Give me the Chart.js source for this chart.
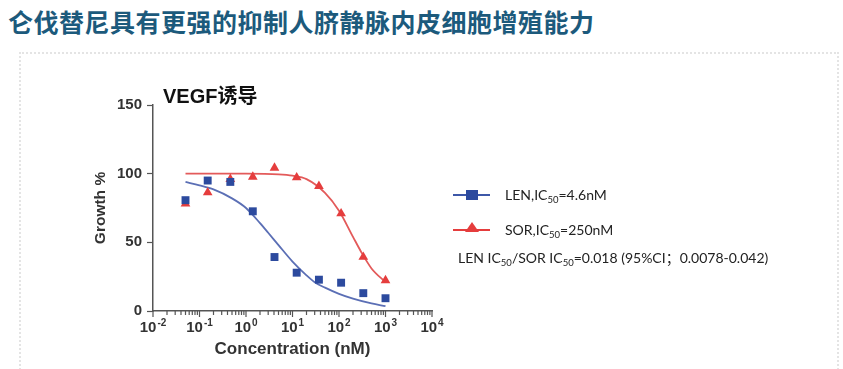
<!DOCTYPE html>
<html>
<head>
<meta charset="utf-8">
<script src="https://cdn.jsdelivr.net/npm/chart.js@4.4.1/dist/chart.umd.min.js"></script>
<style>
  html, body { margin: 0; padding: 0; background: #fff; }
  body { width: 843px; height: 369px; position: relative; overflow: hidden; }
  #title { position: absolute; left: 8px; top: 8px; font: bold 25px "Noto Sans CJK SC", sans-serif; color: #1c5a7c; letter-spacing: 0.5px; line-height: 27px; white-space: nowrap; }
  #frame { position: absolute; left: 19px; top: 52px; width: 820px; height: 330px; border: 2px dotted #e4e4e4; box-sizing: border-box; }
  #chartTitle { position: absolute; left: 163px; top: 85px; font: bold 20px "Liberation Sans", "Noto Sans CJK SC", sans-serif; color: #111; line-height: 22px; white-space: nowrap; }
  canvas { position: absolute; left: 0; top: 0; }
  .leg { position: absolute; font: 14px Lato, "Noto Sans CJK SC", sans-serif; color: #222; white-space: nowrap; line-height: 16px; }
  .leg sub { font-size: 0.68em; vertical-align: -0.3em; line-height: 0; }
  .line { position: absolute; height: 2px; width: 37px; left: 453px; }
  .sq { position: absolute; width: 12px; height: 10px; left: 466px; background: #2c4a9e; }
  .tri { position: absolute; left: 465px; width: 0; height: 0; border-left: 7px solid transparent; border-right: 7px solid transparent; border-bottom: 10px solid #e53d3d; }
</style>
</head>
<body>
<div id="frame"></div>
<div id="title">仑伐替尼具有更强的抑制人脐静脉内皮细胞增殖能力</div>
<canvas id="doseChart" width="843" height="369"></canvas>
<div id="chartTitle">VEGF诱导</div>

<div class="line" style="top:194px;background:#3d58a8"></div>
<div class="sq" style="top:190px"></div>
<div class="leg" style="left:505px;top:187px">LEN,IC<sub>50</sub>=4.6nM</div>

<div class="line" style="top:229px;background:#e53d3d"></div>
<div class="tri" style="top:222px"></div>
<div class="leg" style="left:505px;top:222px">SOR,IC<sub>50</sub>=250nM</div>

<div class="leg" style="left:458px;top:250px">LEN IC<sub>50</sub>/SOR IC<sub>50</sub>=0.018 (95%CI；0.0078-0.042)</div>

<script>
// measured points (nM, growth %)
const concentrations = [0.05, 0.15, 0.46, 1.4, 4.1, 12.3, 37, 111, 333, 1000];
const lenGrowth = [80.7, 95, 94, 72.6, 39.3, 27.9, 22.8, 20.6, 13, 9.3];
const sorGrowth = [78.2, 86.3, 96, 97.7, 104.2, 97.2, 90.9, 71, 39.3, 22.3];

// fitted curves
const lenFitX = [0.05, 0.1, 0.2, 0.5, 1, 2, 3, 5, 10, 20, 30, 50, 100, 200, 500, 1000];
const lenFitY = [94, 91.5, 88.5, 82, 75, 64, 57, 48, 36, 26, 21, 17, 12.5, 9, 5.5, 3.5];
const sorFitX = [0.05, 1, 5, 10, 20, 50, 100, 200, 300, 500, 1000];
const sorFitY = [100, 100, 99.5, 98.5, 96, 86, 73, 54, 43, 31, 21];

const tickExponents = [-2, -1, 0, 1, 2, 3, 4];
const minorSteps = [2, 3, 4, 5, 6, 7, 8, 9];

const axisColor = '#555';
const labelColor = '#333';

const toXY = (xs, ys) => xs.map((x, i) => ({ x: x, y: ys[i] }));

// x axis: log ticks and 10^n labels drawn off the chart's own scale
const logAxisPlugin = {
    id: 'logAxis',
    afterDraw(chart) {
        const { ctx, chartArea } = chart;
        const x = chart.scales.x;
        const y0 = chartArea.bottom;
        ctx.save();
        ctx.strokeStyle = axisColor;
        ctx.lineWidth = 1.2;
        ctx.beginPath();
        tickExponents.forEach(e => {
            const px = x.getPixelForValue(Math.pow(10, e));
            ctx.moveTo(px, y0);
            ctx.lineTo(px, y0 + 6);
            if (e < tickExponents[tickExponents.length - 1]) {
                minorSteps.forEach(m => {
                    const mx = x.getPixelForValue(m * Math.pow(10, e));
                    ctx.moveTo(mx, y0);
                    ctx.lineTo(mx, y0 + 4);
                });
            }
        });
        ctx.stroke();

        ctx.fillStyle = labelColor;
        ctx.textBaseline = 'alphabetic';
        ctx.textAlign = 'left';
        const bigFont = 'bold 15px "Liberation Sans", Arial, sans-serif';
        const smallFont = 'bold 10px "Liberation Sans", Arial, sans-serif';
        tickExponents.forEach(e => {
            const px = x.getPixelForValue(Math.pow(10, e));
            const sup = String(e);
            ctx.font = bigFont;
            const w1 = ctx.measureText('10').width;
            ctx.font = smallFont;
            const w2 = ctx.measureText(sup).width;
            const left = px - (w1 + 1 + w2) / 2;
            ctx.font = bigFont;
            ctx.fillText('10', left, y0 + 21);
            ctx.font = smallFont;
            ctx.fillText(sup, left + w1 + 1, y0 + 15);
        });
        ctx.restore();
    }
};

document.addEventListener('DOMContentLoaded', function() {
    const ctx = document.getElementById('doseChart').getContext('2d');
    new Chart(ctx, {
        type: 'scatter',
        data: {
            datasets: [
                {
                    label: 'LEN',
                    data: toXY(concentrations, lenGrowth),
                    pointStyle: 'rect',
                    pointRadius: 5.6,
                    backgroundColor: '#2c4a9e',
                    borderColor: '#2c4a9e',
                    borderWidth: 0,
                    showLine: false,
                    order: 0
                },
                {
                    label: 'SOR',
                    data: toXY(concentrations, sorGrowth),
                    pointStyle: 'triangle',
                    pointRadius: 5.6,
                    backgroundColor: '#e53d3d',
                    borderColor: '#e53d3d',
                    borderWidth: 0,
                    showLine: false,
                    order: 1
                },
                {
                    label: 'LEN fit',
                    data: toXY(lenFitX, lenFitY),
                    showLine: true,
                    pointRadius: 0,
                    borderColor: '#5b6fb5',
                    borderWidth: 1.8,
                    cubicInterpolationMode: 'monotone',
                    order: 2
                },
                {
                    label: 'SOR fit',
                    data: toXY(sorFitX, sorFitY),
                    showLine: true,
                    pointRadius: 0,
                    borderColor: '#e35a5a',
                    borderWidth: 1.8,
                    cubicInterpolationMode: 'monotone',
                    order: 3
                }
            ]
        },
        options: {
            responsive: false,
            animation: false,
            layout: { padding: { left: 87, top: 105, right: 411, bottom: 5 } },
            plugins: {
                legend: { display: false },
                tooltip: { enabled: false }
            },
            scales: {
                x: {
                    type: 'logarithmic',
                    min: 0.01,
                    max: 10000,
                    afterFit: s => { s.height = 53; },
                    ticks: { display: false },
                    grid: { display: false },
                    border: { display: true, color: axisColor, width: 1.5 },
                    title: {
                        display: true,
                        text: 'Concentration (nM)',
                        color: labelColor,
                        font: { family: '"Liberation Sans", Arial, sans-serif', size: 17, weight: 'bold' },
                        padding: { top: 4, bottom: 4 }
                    }
                },
                y: {
                    min: 0,
                    max: 150,
                    afterFit: s => { s.width = 66; },
                    ticks: {
                        stepSize: 50,
                        padding: 5,
                        color: labelColor,
                        font: { family: '"Liberation Sans", Arial, sans-serif', size: 15, weight: 'bold' }
                    },
                    grid: { drawOnChartArea: false, drawTicks: true, tickLength: 6, color: axisColor, tickWidth: 1.2 },
                    border: { display: true, color: axisColor, width: 1.5 },
                    title: {
                        display: true,
                        text: 'Growth %',
                        color: labelColor,
                        font: { family: '"Liberation Sans", Arial, sans-serif', size: 15.5, weight: 'bold' },
                        padding: { top: 4, bottom: 4 }
                    }
                }
            }
        },
        plugins: [logAxisPlugin]
    });
});
</script>
</body>
</html>
